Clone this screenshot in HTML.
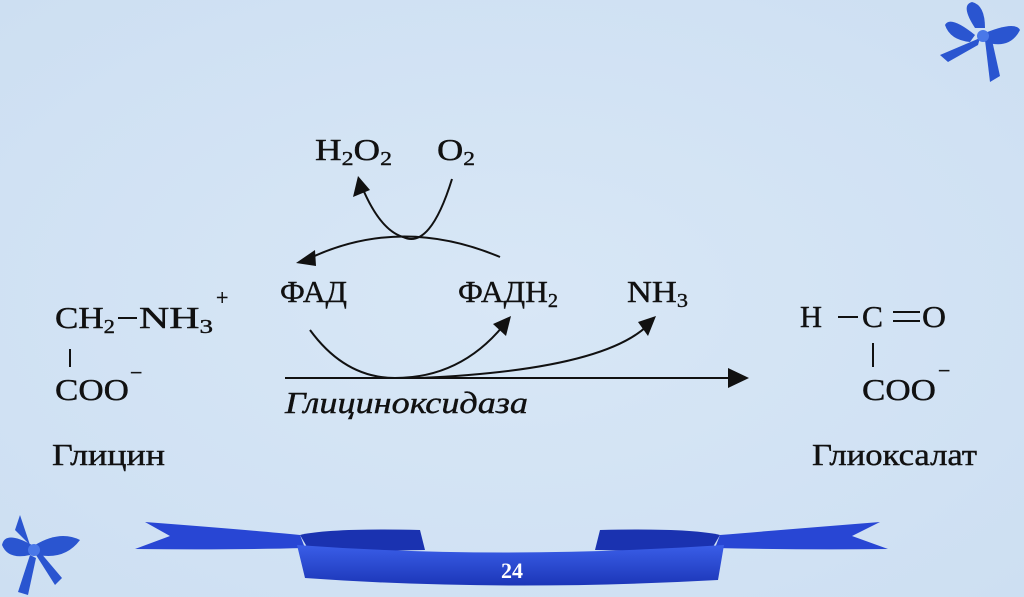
<!DOCTYPE html>
<html><head><meta charset="utf-8"><style>
html,body{margin:0;padding:0;width:1024px;height:597px;overflow:hidden;background:#d3e4f4;}
svg{display:block}
text{font-family:"Liberation Serif",serif;fill:#111;stroke:#111;stroke-width:0.4;}
</style></head><body>
<svg width="1024" height="597" viewBox="0 0 1024 597" xmlns="http://www.w3.org/2000/svg">
<defs>
<linearGradient id="rb" x1="0" y1="0" x2="0" y2="1"><stop offset="0" stop-color="#3a5ee8"/><stop offset="1" stop-color="#1c36b8"/></linearGradient>
<radialGradient id="bg" cx="0.5" cy="0.5" r="0.7"><stop offset="0" stop-color="#d8e7f6"/><stop offset="1" stop-color="#cddff2"/></radialGradient>
</defs>
<rect width="1024" height="597" fill="url(#bg)"/>
<g fill="none" stroke="#111" stroke-width="2">
<path d="M452 179 Q430 250 403 237 Q380 230 362 187"/>
<path d="M500 257 Q400 215 308 259"/>
<path d="M310 330 Q345 378 395 378 Q460 378 503 326"/>
<path d="M420 378 Q600 370 647 326"/>
<line x1="285" y1="378" x2="732" y2="378"/>
<line x1="70" y1="349" x2="70" y2="367"/>
<line x1="873" y1="343" x2="873" y2="367"/>
<line x1="838" y1="317" x2="858" y2="317"/>
<line x1="893" y1="312" x2="920" y2="312"/>
<line x1="893" y1="321" x2="920" y2="321"/>
<line x1="118" y1="318" x2="137" y2="318"/>
</g>
<g fill="#111">
<polygon points="358,176 353,197 370,190"/>
<polygon points="296,263 315,250 316,266"/>
<polygon points="511,316 493,324 506,336"/>
<polygon points="656,316 638,322 648,336"/>
<polygon points="749,378 728,368 728,388"/>
</g>
<g font-size="31">
<text x="315" y="160" textLength="77" lengthAdjust="spacingAndGlyphs">H<tspan font-size="20" dy="5">2</tspan><tspan dy="-5">O</tspan><tspan font-size="20" dy="5">2</tspan></text>
<text x="437" y="160" textLength="38" lengthAdjust="spacingAndGlyphs">O<tspan font-size="20" dy="5">2</tspan></text>
<text x="280" y="302" textLength="67" lengthAdjust="spacingAndGlyphs">ФАД</text>
<text x="458" y="302" textLength="100" lengthAdjust="spacingAndGlyphs">ФАДН<tspan font-size="20" dy="5">2</tspan></text>
<text x="627" y="302" textLength="61" lengthAdjust="spacingAndGlyphs">NH<tspan font-size="20" dy="5">3</tspan></text>
<text x="55" y="328" textLength="60" lengthAdjust="spacingAndGlyphs">CH<tspan font-size="20" dy="5">2</tspan></text>
<text x="139" y="328" textLength="74" lengthAdjust="spacingAndGlyphs">NH<tspan font-size="20" dy="5">3</tspan></text>
<text x="216" y="305" font-size="22">+</text>
<text x="55" y="400" textLength="74" lengthAdjust="spacingAndGlyphs">COO</text>
<text x="130" y="380" font-size="22">−</text>
<text x="52" y="465" textLength="113" lengthAdjust="spacingAndGlyphs">Глицин</text>
<text x="800" y="327" textLength="22" lengthAdjust="spacingAndGlyphs">H</text>
<text x="862" y="327" textLength="21" lengthAdjust="spacingAndGlyphs">C</text>
<text x="922" y="327" textLength="24" lengthAdjust="spacingAndGlyphs">O</text>
<text x="862" y="400" textLength="74" lengthAdjust="spacingAndGlyphs">COO</text>
<text x="938" y="378" font-size="22">−</text>
<text x="812" y="465" textLength="165" lengthAdjust="spacingAndGlyphs">Глиоксалат</text>
<text x="285" y="413" font-style="italic" textLength="243" lengthAdjust="spacingAndGlyphs">Глициноксидаза</text>
</g>
<!-- ribbon -->
<path d="M145 522 Q250 530 300 535 L305 548 Q230 550 135 549 L170 536 Z" fill="#2846d4"/>
<path d="M880 522 Q780 530 720 535 L715 548 Q800 550 888 549 L852 536 Z" fill="#2846d4"/>
<path d="M300 535 Q330 528 420 530 L425 550 L310 552 Z" fill="#1a32b0"/>
<path d="M720 535 Q690 528 600 530 L595 550 L710 552 Z" fill="#1a32b0"/>
<path d="M297 545 Q500 560 724 545 L718 580 Q500 592 305 578 Z" fill="url(#rb)"/>
<text x="512" y="578" font-family="Liberation Sans,sans-serif" font-weight="bold" font-size="22" style="fill:#fff;stroke:none" text-anchor="middle">24</text>
<!-- bows -->
<g fill="#2a55d0">
<path d="M975 28 Q960 5 972 2 Q985 5 985 28 Z"/>
<path d="M980 35 Q1015 20 1020 30 Q1010 50 985 42 Z"/>
<path d="M975 35 Q950 15 945 25 Q950 40 970 42 Z"/>
<path d="M980 38 L940 55 L948 62 L978 45 Z"/>
<path d="M985 40 L990 82 L1000 76 L992 40 Z"/>
<circle cx="983" cy="36" r="6" fill="#4a78e8"/>
<path d="M20 515 L30 545 L15 530 Z"/>
<path d="M32 545 Q5 530 2 545 Q8 560 30 555 Z"/>
<path d="M35 545 Q60 530 80 540 Q65 560 38 555 Z"/>
<path d="M30 555 L18 592 L28 595 L36 558 Z"/>
<path d="M36 555 L55 585 L62 578 L40 552 Z"/>
<circle cx="34" cy="550" r="6" fill="#4a78e8"/>
</g>
</svg>
</body></html>
